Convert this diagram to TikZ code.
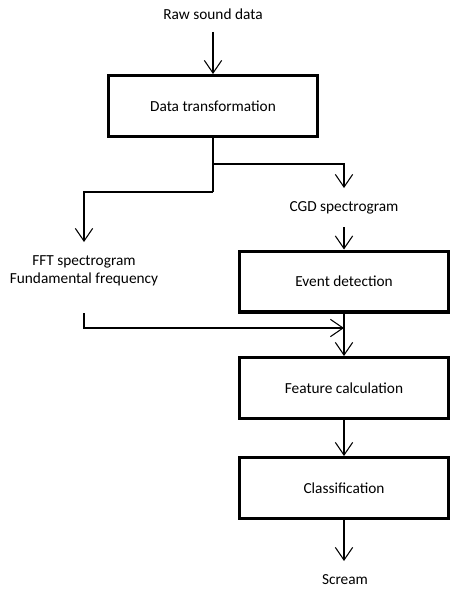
\documentclass[tikz,border=0pt]{standalone}
\usepackage{fontspec}
\setmainfont{Carlito}
\usetikzlibrary{arrows.meta}
\begin{document}
\begin{tikzpicture}[x=0.75pt,y=-0.75pt,
  font=\fontsize{11.5}{13.5}\selectfont,
  thin line/.style={line width=0.8pt,draw=black},
  arr/.style={thin line,-{Straight Barb[length=9.5pt,width=13pt,line width=0.8pt]}},
  procbox/.style={draw=black,line width=2.4pt,minimum width=156.6pt,minimum height=45.6pt,inner sep=0pt},
  label/.style={inner sep=0pt,align=center}]
\useasboundingbox (0,0) rectangle (461,592);
% nodes
\node[label] (raw) at (213,14) {Raw sound data};
\node[procbox] (dt) at (213,106) {Data transformation};
\node[label] (cgd) at (344,208) {CGD spectrogram};
\node[label] (fft) at (84,271) {FFT spectrogram\\Fundamental frequency};
\node[procbox] (ev) at (344,281.5) {Event detection};
\node[procbox] (fc) at (344,388) {Feature calculation};
\node[procbox] (cl) at (344,488) {Classification};
\node[label] (scream) at (345,580) {Scream};
% helper coordinates
\coordinate (rawout) at (213,32);
\coordinate (split1) at (213,164);
\coordinate (split2) at (213,192);
\coordinate (fftin) at (84,242);
\coordinate (cgdin) at (344,188);
\coordinate (cgdout) at (344,227);
\coordinate (fftout) at (84,313);
\coordinate (fftturn) at (84,328);
\coordinate (merge) at (344,328);
\coordinate (screamin) at (344,561);
% connectors
\draw[arr] (rawout) -- (dt.north);
\draw[thin line] (dt.south) -- (split2);
\draw[arr] (split2) -| (fftin);
\draw[arr] (split1) -| (cgdin);
\draw[arr] (cgdout) -- (ev.north);
\draw[arr] (fftout) -- (fftturn) -- (merge);
\draw[arr] (ev.south) -- (fc.north);
\draw[arr] (fc.south) -- (cl.north);
\draw[arr] (cl.south) -- (screamin);
\end{tikzpicture}
\end{document}
